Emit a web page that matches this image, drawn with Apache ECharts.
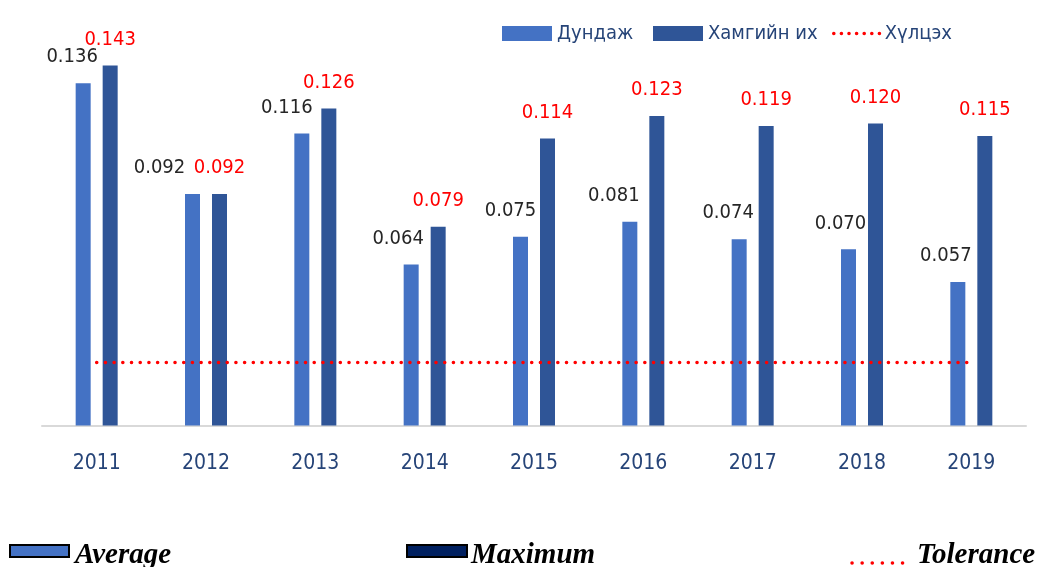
<!DOCTYPE html>
<html>
<head>
<meta charset="utf-8">
<script src="https://cdn.jsdelivr.net/npm/echarts@6/dist/echarts.min.js"></script>
<style>
html, body { margin: 0; padding: 0; background: #fff; }
#main { width: 1038px; height: 567px; }
</style>
</head>
<body>
<div id="main"></div>
<script>
// 年份
var years = ['2011', '2012', '2013', '2014', '2015', '2016', '2017', '2018', '2019'];
// Дундаж (average)
var avgValues = [0.136, 0.092, 0.116, 0.064, 0.075, 0.081, 0.074, 0.070, 0.057];
// Хамгийн их (maximum)
var maxValues = [0.143, 0.092, 0.126, 0.079, 0.114, 0.123, 0.119, 0.120, 0.115];
// Хүлцэх (tolerance)
var toleranceValues = [0.025, 0.025, 0.025, 0.025, 0.025, 0.025, 0.025, 0.025, 0.025];

// label nudges for the average series (px, left)
var avgLabelShift = [-11, -33, -15, -13, -10, -16, -11, -8, -12];

var narrow = '"Liberation Sans Narrow", "DejaVu Sans Condensed", "Liberation Sans", sans-serif';
var serif = '"Liberation Serif", "DejaVu Serif", serif';

var myChart = echarts.init(document.getElementById('main'));

var legendText = { color: '#264478', fontSize: 20, fontFamily: narrow, lineHeight: 22 };

var option = {
    backgroundColor: '#ffffff',
    animation: false,
    grid: { left: 42, right: 12, top: 48, bottom: 141.5 },
    legend: [
        { data: ['Дундаж'], icon: 'rect', left: 497, top: 17.5, itemWidth: 50, itemHeight: 15, textStyle: legendText },
        { data: ['Хамгийн их'], icon: 'rect', left: 648, top: 17.5, itemWidth: 50, itemHeight: 15, textStyle: legendText },
        {
            data: ['Хүлцэх'], left: 827, top: 17.5, itemWidth: 46, itemHeight: 15, textStyle: legendText,
            itemStyle: { opacity: 0 },
            lineStyle: { color: '#ff0000', width: 3.5, type: [0.1, 7.5], cap: 'round' }
        }
    ],
    xAxis: {
        type: 'category',
        data: years,
        axisTick: { show: false },
        axisLine: { lineStyle: { color: '#d9d9d9', width: 2 } },
        axisLabel: { color: '#264478', fontSize: 21, fontFamily: narrow, margin: 28 }
    },
    yAxis: {
        type: 'value',
        min: 0,
        max: 0.15,
        show: false,
        splitLine: { show: false }
    },
    series: [
        {
            name: 'Дундаж',
            type: 'bar',
            barWidth: 15,
            barGap: '80%',
            itemStyle: { color: '#4472C4' },
            label: {
                show: true,
                position: 'top',
                distance: 16,
                color: '#262626',
                fontSize: 20,
                fontFamily: narrow,
                formatter: function (p) { return p.value.toFixed(3); }
            },
            data: avgValues.map(function (v, i) {
                return { value: v, label: { offset: [avgLabelShift[i], 0] } };
            })
        },
        {
            name: 'Хамгийн их',
            type: 'bar',
            barWidth: 15,
            itemStyle: { color: '#2F5597' },
            label: {
                show: true,
                position: 'top',
                distance: 16,
                color: '#ff0000',
                fontSize: 20,
                fontFamily: narrow,
                formatter: function (p) { return p.value.toFixed(3); }
            },
            data: maxValues
        },
        {
            name: 'Хүлцэх',
            type: 'line',
            symbol: 'none',
            lineStyle: { color: '#ff0000', width: 3.5, type: [0.1, 8.6], cap: 'round' },
            itemStyle: { color: '#ff0000' },
            data: toleranceValues
        }
    ],
    // English legend under the chart
    graphic: [
        { type: 'rect', shape: { x: 10, y: 545, width: 59, height: 12 }, style: { fill: '#4472C4', stroke: '#000', lineWidth: 2 } },
        { type: 'text', x: 75, y: 541, style: { text: 'Average', fill: '#000', font: 'italic bold 29px ' + serif, verticalAlign: 'top' } },
        { type: 'rect', shape: { x: 407, y: 545, width: 60, height: 12 }, style: { fill: '#002060', stroke: '#000', lineWidth: 2 } },
        { type: 'text', x: 471, y: 541, style: { text: 'Maximum', fill: '#000', font: 'italic bold 29px ' + serif, verticalAlign: 'top' } },
        { type: 'line', shape: { x1: 852, y1: 563, x2: 904, y2: 563 }, style: { stroke: '#ff0000', lineWidth: 3.5, lineDash: [0.1, 10], lineCap: 'round' } },
        { type: 'text', x: 917, y: 541, style: { text: 'Tolerance', fill: '#000', font: 'italic bold 29px ' + serif, verticalAlign: 'top' } }
    ]
};

myChart.setOption(option, true);
window.addEventListener('resize', myChart.resize);
</script>
</body>
</html>
